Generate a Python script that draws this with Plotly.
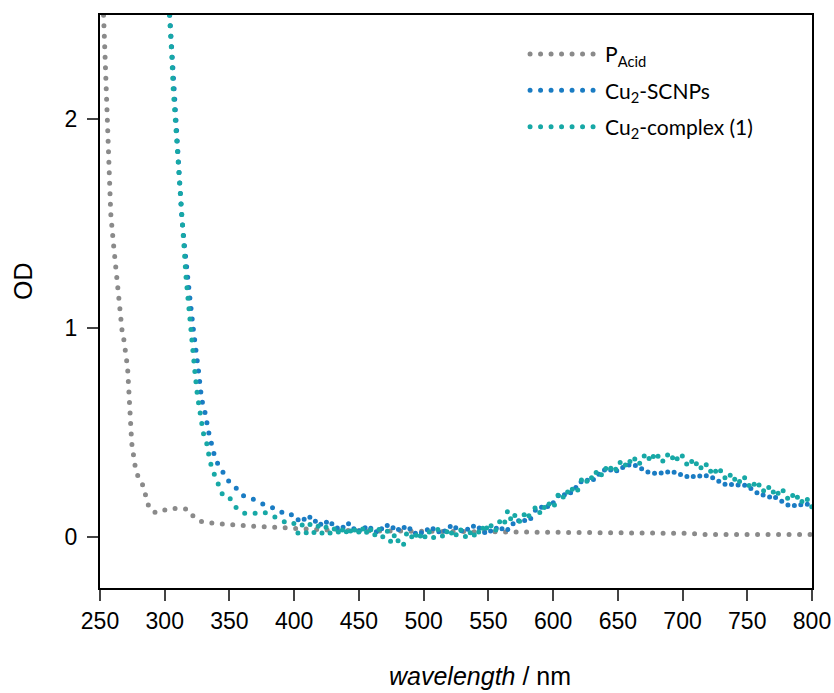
import plotly.graph_objects as go

# ---- UV-vis absorbance data (wavelength in nm, optical density) ----
pacid_wl = [251, 253, 255.2, 257, 258.3, 260.3, 262, 264, 266.2, 267.5, 268.3, 269,
            270.5, 271.4, 272.4, 273.2, 274.5, 277, 279, 283, 285.2, 287.6, 290, 293.5,
            297, 301.5, 305, 309.7, 314, 317.5, 320, 322.8, 329, 337, 345, 360, 380,
            400, 420, 450, 500, 550, 600, 650, 680, 700, 720, 740, 760, 800]
pacid_od = [2.8, 2.46, 2.01, 1.76, 1.55, 1.41, 1.30, 1.15, 1.0, 0.96, 0.95, 0.90,
            0.85, 0.80, 0.65, 0.55, 0.45, 0.345, 0.297, 0.249, 0.198, 0.148, 0.125, 0.116,
            0.12, 0.134, 0.137, 0.136, 0.136, 0.134, 0.115, 0.094, 0.072, 0.066, 0.062, 0.055, 0.047,
            0.04, 0.035, 0.03, 0.028, 0.026, 0.025, 0.025, 0.024, 0.018, 0.012, 0.011, 0.012, 0.012]

scnp_wl = [300, 304, 305.5, 306.5, 308, 309.5, 311, 313, 315, 316.5, 318, 319.5, 322, 324,
           326, 328.5, 331, 334, 338, 341, 344.5, 349, 355, 360, 364, 367, 372, 376, 380,
           386, 390, 394, 397,
           400, 403, 406, 409, 412, 415, 418, 421, 424, 427, 430, 433, 436, 439, 442, 445,
           448, 451, 454, 457, 460, 463, 466, 469, 472, 475, 478, 481, 484, 487, 490, 493,
           496, 499, 502, 505, 508, 511, 514, 517, 520, 523, 526, 529, 532, 535, 538, 541,
           544, 547, 550, 553, 556, 559, 562, 565, 568, 571, 574, 577, 580, 583, 586, 589,
           592, 595, 598, 601, 604, 607, 610, 613, 616, 619, 622, 625, 628, 631, 634, 637,
           640, 643, 646, 649, 652, 655, 658, 661, 664, 667, 670, 673, 676, 679, 682, 685,
           688, 691, 694, 697, 700, 703, 706, 709, 712, 715, 718, 721, 724, 727, 730, 733,
           736, 739, 742, 745, 748, 751, 754, 757, 760, 763, 766, 769, 772, 775, 778, 781,
           784, 787, 790, 793, 796, 799, 802]
scnp_od = [2.90, 2.50, 2.31, 2.17, 2.01, 1.86, 1.71, 1.55, 1.41, 1.30, 1.21, 1.14, 1.00, 0.91,
           0.80, 0.66, 0.60, 0.50, 0.40, 0.35, 0.31, 0.27, 0.235, 0.20, 0.19, 0.185, 0.17, 0.16, 0.145,
           0.137, 0.12, 0.105, 0.104,
           0.112, 0.082, 0.104, 0.070, 0.096, 0.064, 0.090, 0.056, 0.082, 0.046, 0.072, 0.040, 0.066, 0.034, 0.064, 0.030,
           0.056, 0.024, 0.052, 0.022, 0.050, 0.020, 0.054, 0.026, 0.056, 0.030, 0.062, 0.032, 0.058, 0.022, 0.044, 0.012,
           0.040, 0.014, 0.042, 0.016, 0.046, 0.018, 0.048, 0.024, 0.056, 0.026, 0.056, 0.028, 0.054, 0.028, 0.056, 0.026,
           0.052, 0.020, 0.046, 0.016, 0.044, 0.020, 0.058, 0.036, 0.072, 0.050, 0.086, 0.066, 0.104, 0.088, 0.130, 0.116,
           0.154, 0.136, 0.176, 0.160, 0.198, 0.180, 0.219, 0.204, 0.246, 0.230, 0.270, 0.254, 0.292, 0.274, 0.310, 0.290,
           0.324, 0.304, 0.338, 0.316, 0.346, 0.324, 0.350, 0.324, 0.346, 0.318, 0.338, 0.310, 0.328, 0.300, 0.320, 0.294,
           0.316, 0.291, 0.314, 0.289, 0.312, 0.287, 0.310, 0.284, 0.305, 0.277, 0.297, 0.269, 0.289, 0.260, 0.280, 0.251,
           0.270, 0.240, 0.258, 0.229, 0.248, 0.220, 0.240, 0.210, 0.227, 0.193, 0.207, 0.170, 0.190, 0.161, 0.180, 0.151,
           0.172, 0.145, 0.167, 0.140, 0.161, 0.134, 0.150]

cplx_wl = [300, 304, 305.5, 306.5, 308, 309.5, 311, 313, 315, 316.5, 318, 319.5, 321, 323.4,
           325.2, 327.2, 329.8, 332.4, 335, 337.5, 340.2, 345.3, 350.4, 355.6, 362, 368.4, 376.2,
           382.6, 390.4, 396,
           400, 403, 406, 409, 412, 415, 418, 421, 424, 427, 430, 433, 436, 439, 442, 445,
           448, 451, 454, 457, 460, 463, 466, 469, 472, 475, 478, 481, 484, 487, 490, 493,
           496, 499, 502, 505, 508, 511, 514, 517, 520, 523, 526, 529, 532, 535, 538, 541,
           544, 547, 550, 553, 556, 559, 562, 565, 568, 571, 574, 577, 580, 583, 586, 589,
           592, 595, 598, 601, 604, 607, 610, 613, 616, 619, 622, 625, 628, 631, 634, 637,
           640, 643, 646, 649, 652, 655, 658, 661, 664, 667, 670, 673, 676, 679, 682, 685,
           688, 691, 694, 697, 700, 703, 706, 709, 712, 715, 718, 721, 724, 727, 730, 733,
           736, 739, 742, 745, 748, 751, 754, 757, 760, 763, 766, 769, 772, 775, 778, 781,
           784, 787, 790, 793, 796, 799, 802]
cplx_od = [2.90, 2.50, 2.30, 2.15, 2.00, 1.84, 1.69, 1.53, 1.38, 1.24, 1.14, 0.99, 0.93, 0.785,
           0.68, 0.594, 0.498, 0.45, 0.361, 0.313, 0.273, 0.193, 0.185, 0.137, 0.113, 0.113, 0.121,
           0.105, 0.081, 0.060,
           0.065, 0.018, 0.060, 0.016, 0.064, 0.018, 0.060, 0.012, 0.056, 0.010, 0.052, 0.008, 0.052, 0.006, 0.050, 0.008,
           0.052, 0.008, 0.054, 0.006, 0.046, 0.000, 0.042, -0.008, 0.028, -0.030, 0.018, -0.030, -0.046, 0.020, -0.008, 0.028,
           -0.016, 0.026, -0.010, 0.034, -0.006, 0.036, -0.002, 0.038, 0.000, 0.038, 0.000, 0.038, 0.000, 0.034, -0.008, 0.040,
           0.010, 0.066, 0.026, 0.066, 0.030, 0.078, 0.056, 0.128, 0.072, 0.110, 0.074, 0.114, 0.082, 0.126, 0.140, 0.106,
           0.152, 0.128, 0.176, 0.152, 0.204, 0.178, 0.226, 0.200, 0.248, 0.225, 0.274, 0.250, 0.298, 0.274, 0.320, 0.293,
           0.336, 0.307, 0.349, 0.318, 0.360, 0.332, 0.376, 0.346, 0.386, 0.352, 0.392, 0.360, 0.404, 0.364, 0.398, 0.361,
           0.398, 0.364, 0.400, 0.360, 0.390, 0.348, 0.378, 0.334, 0.364, 0.322, 0.351, 0.308, 0.337, 0.294, 0.323, 0.280,
           0.308, 0.264, 0.294, 0.253, 0.284, 0.243, 0.272, 0.229, 0.258, 0.216, 0.246, 0.204, 0.235, 0.194, 0.225, 0.184,
           0.214, 0.172, 0.203, 0.160, 0.186, 0.140, 0.160]

x_ticks = [250, 300, 350, 400, 450, 500, 550, 600, 650, 700, 750, 800]
y_ticks = [0, 1, 2]

series = [
    ("P<sub>Acid</sub>", pacid_wl, pacid_od, "#8a8a8a"),
    ("Cu<sub>2</sub>-SCNPs", scnp_wl, scnp_od, "#1a7cc3"),
    ("Cu<sub>2</sub>-complex (1)", cplx_wl, cplx_od, "#17a8a6"),
]

fig = go.Figure()
for i, (name, wl, od, color) in enumerate(series):
    fig.add_trace(go.Scatter(
        x=wl, y=od, name=name, mode="lines", legendgroup=f"g{i}",
        line=dict(color=color, width=5, dash="0px,10.5px"),
    ))

axis_font = dict(family="Liberation Sans, Arial, sans-serif", size=23, color="black")

fig.update_layout(
    width=834, height=693,
    margin=dict(l=100, r=22, t=15, b=105, autoexpand=False),
    paper_bgcolor="white", plot_bgcolor="white",
    showlegend=True,
    legend=dict(
        x=0.597, y=0.967, xanchor="left", yanchor="top",
        bgcolor="rgba(0,0,0,0)", itemwidth=70, tracegroupgap=6,
        font=dict(family="Lato, Noto Sans, sans-serif", size=21, color="black"),
    ),
    xaxis=dict(
        range=[250, 800], tickvals=x_ticks, ticks="outside", ticklen=11, tickwidth=2,
        showline=True, linecolor="black", linewidth=2, mirror=True,
        showgrid=False, zeroline=False, tickfont=axis_font,
    ),
    yaxis=dict(
        range=[-0.244, 2.5], tickvals=y_ticks, ticks="outside", ticklen=11, tickwidth=2,
        showline=True, linecolor="black", linewidth=2, mirror=True,
        showgrid=False, zeroline=False, tickfont=axis_font, ticklabelstandoff=5,
    ),
    annotations=[
        dict(text="OD", xref="paper", yref="paper", x=-0.108, y=0.536, textangle=-90,
             showarrow=False, xanchor="center", yanchor="middle",
             font=dict(family="Liberation Sans, Arial, sans-serif", size=25, color="black")),
        dict(text="<i>wavelength</i> / nm", xref="paper", yref="paper", x=0.534, y=-0.154,
             showarrow=False, xanchor="center", yanchor="middle",
             font=dict(family="Liberation Sans, Arial, sans-serif", size=25, color="black")),
    ],
)

# round line caps turn the zero-length dashes into round dots
dot_style = """
var s = document.createElement('style');
s.textContent = '.js-line{stroke-linecap:round !important;}';
document.head.appendChild(s);
"""

fig.write_html("out.html", post_script=dot_style)
